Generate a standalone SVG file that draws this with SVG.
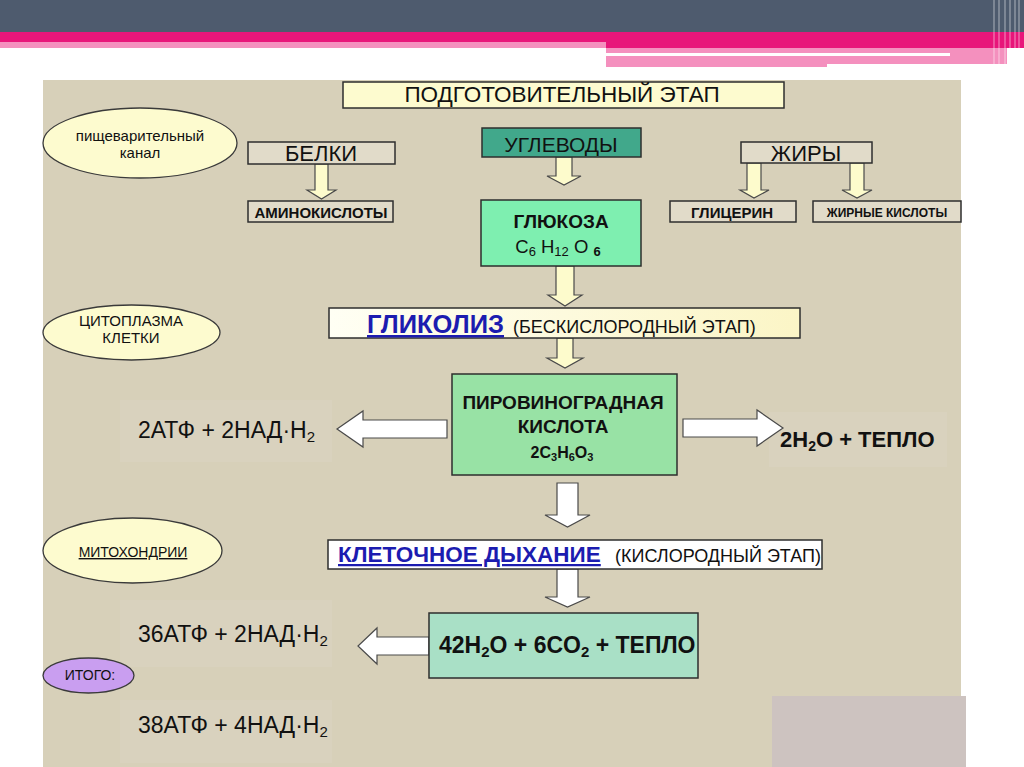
<svg xmlns="http://www.w3.org/2000/svg" width="1024" height="767" viewBox="0 0 1024 767">
<defs>
<style>
.t{font-family:"Liberation Sans",Arial,sans-serif;fill:#111}
.b{font-weight:bold}
.box{stroke:#2e2e2e;stroke-width:1.5}
.beige{fill:#e1dbc9}
.yel{fill:#fdfbcf}
.ya{fill:#fdfbcc;stroke:#4a4a4a;stroke-width:1.2;stroke-linejoin:miter}
.wa{fill:#ffffff;stroke:#4a4a4a;stroke-width:1.2;stroke-linejoin:miter}
.ell{stroke:#3a3a3a;stroke-width:1.3}
.soft{fill:#d9d2be}
.blue{fill:#1c1cb0;text-decoration:underline}
</style>
<linearGradient id="gly" x1="0" y1="0" x2="1" y2="0">
<stop offset="0" stop-color="#fffff4"/>
<stop offset="1" stop-color="#fbf5c6"/>
</linearGradient>
</defs>

<!-- page background and header -->
<rect x="0" y="0" width="1024" height="767" fill="#ffffff"/>
<rect x="0" y="0" width="1024" height="32" fill="#4e5b6e"/>
<rect x="0" y="32" width="1024" height="10" fill="#e8167a"/>
<rect x="606" y="42" width="418" height="6" fill="#e8167a"/>
<rect x="0" y="42" width="606" height="6" fill="#f490be"/>
<rect x="606" y="48" width="401" height="19" fill="#f490be"/>
<rect x="606" y="53" width="344" height="3" fill="#ffffff"/>
<rect x="827" y="64" width="180" height="3" fill="#ffffff"/>
<g stroke="#ffffff" stroke-opacity="0.45" stroke-width="1.2">
<line x1="994" y1="0" x2="994" y2="64"/>
<line x1="999" y1="0" x2="999" y2="66"/>
<line x1="1005" y1="0" x2="1005" y2="67"/>
<line x1="1010" y1="0" x2="1010" y2="67"/>
<line x1="1015" y1="0" x2="1015" y2="67"/>
<line x1="1019" y1="0" x2="1019" y2="67"/>
</g>

<!-- panel -->
<rect x="43" y="80" width="918" height="687" fill="#d7d0b9"/>
<rect x="772" y="696" width="194" height="71" fill="#cdc3c0"/>

<!-- faint text backgrounds -->
<rect class="soft" x="120" y="400" width="212" height="62"/>
<rect class="soft" x="769" y="412" width="178" height="55"/>
<rect class="soft" x="120" y="600" width="212" height="67"/>
<rect class="soft" x="120" y="700" width="212" height="63"/>

<!-- connectors -->
<g id="connectors">
<polygon class="ya" points="315,164 328,164 328,190 336,190 321.5,199 307,190 315,190"/>
<polygon class="ya" points="556,157 572,157 572,176 581,176 564,185 547,176 556,176"/>
<polygon class="ya" points="747,163 761,163 761,190 769,190 754,198 740,190 747,190"/>
<polygon class="ya" points="850,163 864,163 864,190 872,190 857,198 842,190 850,190"/>
<polygon class="ya" points="556,266 574,266 574,295 582,295 565,306 548,295 556,295"/>
<polygon class="ya" points="557,338 573,338 573,358 583,358 565,368 547,358 557,358"/>
<polygon class="wa" points="447,420 363,420 363,411 337,429 363,447 363,438 447,438"/>
<polygon class="wa" points="683,419 757,419 757,410 783,428 757,446 757,437 683,437"/>
<polygon class="wa" points="557,483 578,483 578,515 590,515 567.5,527 545,515 557,515"/>
<polygon class="wa" points="557,569 578,569 578,597 590,597 567.5,607 545,597 557,597"/>
<polygon class="wa" points="429,637 377,637 377,628 358,646 377,664 377,655 429,655"/>
</g>

<g id="prep">
<rect class="box yel" x="343" y="82" width="441" height="26"/>
<text class="t" x="562" y="102" font-size="22.5" text-anchor="middle">ПОДГОТОВИТЕЛЬНЫЙ ЭТАП</text>
</g>

<g id="digest">
<ellipse class="ell" cx="140" cy="143" rx="97" ry="35" fill="#fdfbcf"/>
<text class="t" x="140" y="141" font-size="15" text-anchor="middle">пищеварительный</text>
<text class="t" x="140" y="158" font-size="15" text-anchor="middle">канал</text>
</g>

<g id="proteins">
<rect class="box beige" x="248" y="142" width="147" height="22"/>
<text class="t" x="321" y="161" font-size="22" text-anchor="middle">БЕЛКИ</text>
</g>

<g id="amino">
<rect class="box beige" x="248" y="201" width="145" height="21"/>
<text class="t b" x="321" y="218" font-size="15" text-anchor="middle">АМИНОКИСЛОТЫ</text>
</g>

<g id="carbs">
<rect class="box" x="482" y="128" width="159" height="29" fill="#41a88b"/>
<text class="t" x="561" y="152" font-size="21" text-anchor="middle">УГЛЕВОДЫ</text>
</g>

<g id="glucose">
<rect class="box" x="481" y="200" width="160" height="66" fill="#7eefb0"/>
<text class="t b" x="561" y="228" font-size="19" text-anchor="middle">ГЛЮКОЗА</text>
<text class="t" x="558" y="253" font-size="18.5" text-anchor="middle">C<tspan font-size="13" dy="3">6</tspan><tspan dy="-3"> H</tspan><tspan font-size="13" dy="3">12</tspan><tspan dy="-3"> O </tspan><tspan font-size="13" font-weight="bold" dy="3">6</tspan></text>
</g>

<g id="fats">
<rect class="box beige" x="741" y="142" width="131" height="21"/>
<text class="t" x="806" y="161" font-size="22" text-anchor="middle">ЖИРЫ</text>
</g>

<g id="glycerol">
<rect class="box beige" x="670" y="201" width="126" height="21"/>
<text class="t b" x="732" y="218" font-size="15" text-anchor="middle">ГЛИЦЕРИН</text>
</g>

<g id="fattyacids">
<rect class="box beige" x="813" y="201" width="148" height="21"/>
<text class="t b" x="887" y="217" font-size="12" text-anchor="middle" fill="#222">ЖИРНЫЕ КИСЛОТЫ</text>
</g>

<g id="cytoplasm">
<ellipse class="ell" cx="131.5" cy="332.5" rx="88.5" ry="27.5" fill="#fdfbcf"/>
<text class="t" x="131" y="326" font-size="15" text-anchor="middle">ЦИТОПЛАЗМА</text>
<text class="t" x="131" y="343" font-size="15" text-anchor="middle">КЛЕТКИ</text>
</g>

<g id="glycolysis">
<rect class="box" x="329" y="308" width="471" height="30" fill="url(#gly)"/>
<text class="t" y="333"><tspan class="b blue" x="367" font-size="25.5">ГЛИКОЛИЗ</tspan><tspan x="513" font-size="18">(БЕСКИСЛОРОДНЫЙ ЭТАП)</tspan></text>
</g>

<g id="pyruvate">
<rect class="box" x="452" y="374" width="225" height="101" fill="#98e2a5"/>
<text class="t b" x="563" y="409" font-size="19" text-anchor="middle">ПИРОВИНОГРАДНАЯ</text>
<text class="t b" x="563" y="433" font-size="19" text-anchor="middle">КИСЛОТА</text>
<text class="t b" x="562" y="458" font-size="16" text-anchor="middle">2C<tspan font-size="11" dy="3">3</tspan><tspan dy="-3">H</tspan><tspan font-size="11" dy="3">6</tspan><tspan dy="-3">O</tspan><tspan font-size="11" dy="3">3</tspan></text>
</g>

<g id="atp1">
<text class="t" x="138" y="438" font-size="23">2АТФ + 2НАД·Н<tspan font-size="15" dy="4">2</tspan></text>
</g>

<g id="water1">
<text class="t b" x="780" y="447" font-size="22">2H<tspan font-size="14" dy="4">2</tspan><tspan dy="-4">O + ТЕПЛО</tspan></text>
</g>

<g id="mito">
<ellipse class="ell" cx="132.5" cy="550.5" rx="89.5" ry="32.5" fill="#fdfbcf"/>
<text class="t" x="133" y="557" font-size="14" text-anchor="middle" fill="#2b2f8a" text-decoration="underline">МИТОХОНДРИИ</text>
</g>

<g id="respiration">
<rect class="box" x="328" y="540" width="494" height="29" fill="#ffffff"/>
<text class="t" y="562"><tspan class="b blue" x="338" font-size="22.5">КЛЕТОЧНОЕ ДЫХАНИЕ</tspan><tspan x="615" font-size="18">(КИСЛОРОДНЫЙ ЭТАП)</tspan></text>
</g>

<g id="products">
<rect class="box" x="429" y="613" width="269" height="65" fill="#a9e0c6"/>
<text class="t b" x="439" y="653" font-size="23">42H<tspan font-size="15" dy="4">2</tspan><tspan dy="-4">O + 6CO</tspan><tspan font-size="15" dy="4">2</tspan><tspan dy="-4"> + ТЕПЛО</tspan></text>
</g>

<g id="atp2">
<text class="t" x="138" y="642" font-size="23">36АТФ + 2НАД·Н<tspan font-size="15" dy="4">2</tspan></text>
</g>

<g id="total">
<ellipse class="ell" cx="88.5" cy="675.5" rx="45.5" ry="17.5" fill="#c99ef0"/>
<text class="t" x="90" y="680" font-size="14" text-anchor="middle" fill="#333">ИТОГО:</text>
</g>

<g id="atp3">
<text class="t" x="138" y="733" font-size="23">38АТФ + 4НАД·Н<tspan font-size="15" dy="4">2</tspan></text>
</g>
</svg>
